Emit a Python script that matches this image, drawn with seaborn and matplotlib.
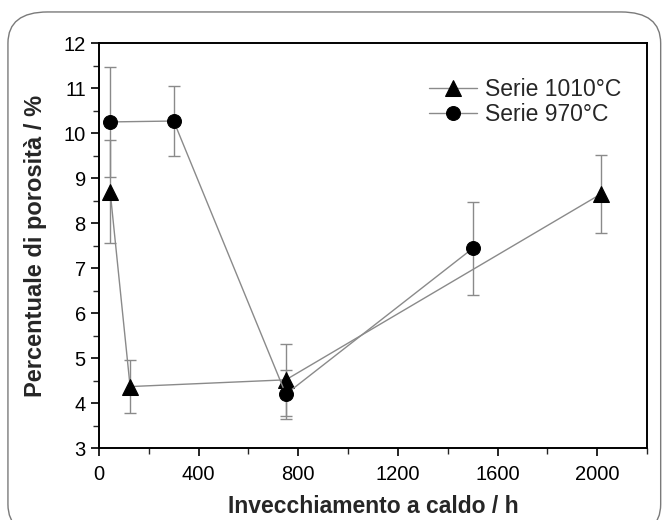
import numpy as np
import pandas as pd
import matplotlib
matplotlib.use('Agg')
import matplotlib.pyplot as plt
from matplotlib.patches import FancyBboxPatch
from matplotlib.ticker import MultipleLocator
import seaborn as sns

# Data
hours_1010 = [45, 125, 750, 2015]
poro_1010 = [8.70, 4.37, 4.52, 8.65]
err_1010 = [1.15, 0.58, 0.80, 0.87]

hours_970 = [45, 300, 750, 1500]
poro_970 = [10.25, 10.27, 4.20, 7.44]
err_970 = [1.22, 0.77, 0.54, 1.03]

sns.set_style('ticks')
plt.rcParams['font.family'] = ['Liberation Sans', 'DejaVu Sans']

fig = plt.figure(figsize=(6.62, 5.2), dpi=100)
ax = fig.add_axes([0.1495, 0.138, 0.828, 0.779])

# rounded frame around the whole figure
frame = FancyBboxPatch((0.012, -0.03), 0.986, 1.007,
                       boxstyle='round,pad=0,rounding_size=0.06',
                       transform=fig.transFigure, fill=False,
                       edgecolor='#7a7a7a', linewidth=1.0, clip_on=False)
fig.patches.append(frame)

LINE = '#8a8a8a'

df1 = pd.DataFrame({'h': hours_1010, 'p': poro_1010})
df2 = pd.DataFrame({'h': hours_970, 'p': poro_970})

ax.errorbar(hours_1010, poro_1010, yerr=err_1010, fmt='none',
            ecolor=LINE, elinewidth=1.0, capsize=4, capthick=1.0, zorder=1)
ax.errorbar(hours_970, poro_970, yerr=err_970, fmt='none',
            ecolor=LINE, elinewidth=1.0, capsize=4, capthick=1.0, zorder=1)

sns.lineplot(data=df1, x='h', y='p', ax=ax, sort=False, color=LINE,
             linewidth=1.0, marker='^', markersize=11,
             markerfacecolor='black', markeredgecolor='black',
             label='Serie 1010°C', zorder=3)
sns.lineplot(data=df2, x='h', y='p', ax=ax, sort=False, color=LINE,
             linewidth=1.0, marker='o', markersize=10,
             markerfacecolor='black', markeredgecolor='black',
             label='Serie 970°C', zorder=3)

ax.set_xlim(0, 2200)
ax.set_ylim(3, 12)
ax.xaxis.set_major_locator(MultipleLocator(400))
ax.xaxis.set_minor_locator(MultipleLocator(200))
ax.yaxis.set_major_locator(MultipleLocator(1))
ax.yaxis.set_minor_locator(MultipleLocator(0.5))
ax.tick_params(which='major', direction='out', length=6, width=1.2,
               labelsize=14.5, colors='black')
ax.tick_params(axis='x', which='major', pad=6)
ax.tick_params(which='minor', direction='out', length=4, width=1.0)
for s in ax.spines.values():
    s.set_linewidth(1.4)
    s.set_color('black')

ax.set_xlabel('Invecchiamento a caldo / h', fontsize=16.5, fontweight='bold',
              labelpad=8)
ax.set_ylabel('Percentuale di porosità / %', fontsize=17, fontweight='bold',
              labelpad=12)

ax.legend(loc='upper right', bbox_to_anchor=(0.99, 0.965), frameon=False,
          fontsize=16.5, handlelength=2.1, handletextpad=0.35,
          labelspacing=0.1)

fig.savefig('out.png', dpi=100)
